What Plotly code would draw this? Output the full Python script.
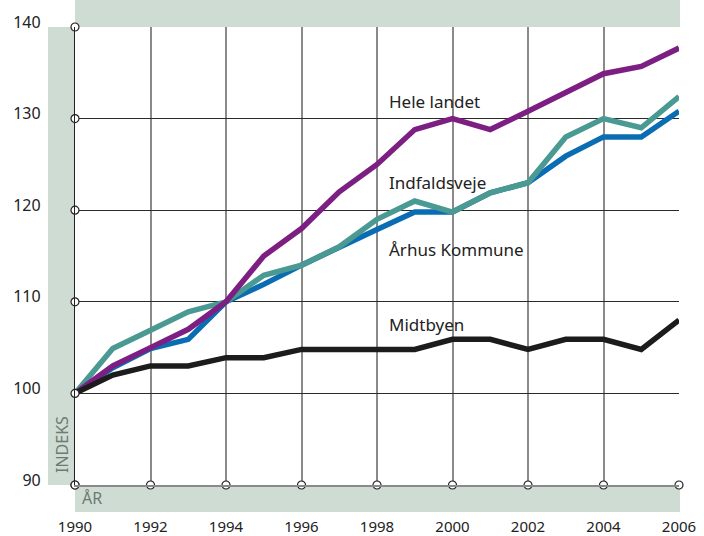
import plotly.graph_objects as go

# Data
years = list(range(1990, 2007))
hele_landet = [100, 103, 105, 107, 110, 115, 118, 122, 125, 128.8, 130, 128.8, 130.8, 132.9, 134.9, 135.7, 137.7]
indfaldsveje = [100, 104.9, 106.9, 108.9, 110, 112.9, 114, 116, 119, 121, 119.8, 121.9, 123, 128, 130, 129, 132.4]
aarhus_kommune = [100, 102.8, 104.9, 105.9, 110, 111.9, 114, 116, 117.9, 119.8, 119.8, 121.9, 123, 125.9, 128, 128, 130.8]
midtbyen = [100, 102, 103, 103, 103.9, 103.9, 104.8, 104.8, 104.8, 104.8, 105.9, 105.9, 104.8, 105.9, 105.9, 104.8, 108]

series = [
    ("Århus Kommune", aarhus_kommune, "#0a6db3"),
    ("Indfaldsveje", indfaldsveje, "#4a9a93"),
    ("Hele landet", hele_landet, "#7d1f82"),
    ("Midtbyen", midtbyen, "#1c1c1c"),
]

# label positions (year, value)
labels = {
    "Hele landet": (1998.27, 131.9),
    "Indfaldsveje": (1998.27, 123.0),
    "Århus Kommune": (1998.27, 115.7),
    "Midtbyen": (1998.27, 107.5),
}

x_ticks = list(range(1990, 2007, 2))
y_ticks = list(range(90, 141, 10))

band = "#cfdcd3"
font = "Noto Sans"

fig = go.Figure()

for name, vals, col in series:
    fig.add_trace(go.Scatter(x=years, y=vals, mode="lines", name=name,
                             line=dict(color=col, width=5.5), cliponaxis=False))

# circles on the left and bottom axes
fig.add_trace(go.Scatter(
    x=[1990] * len(y_ticks) + x_ticks,
    y=y_ticks + [90] * len(x_ticks),
    mode="markers", cliponaxis=False, hoverinfo="skip",
    marker=dict(size=8, color="white", line=dict(color="#222", width=1.2)),
))

for name, (lx, ly) in labels.items():
    fig.add_annotation(x=lx, y=ly, text=name, showarrow=False, xanchor="left",
                       yanchor="middle", font=dict(family=font, size=17, color="#222"))

# coloured bands around the plot area
W, H = 604, 458
fig.add_shape(type="rect", xref="paper", yref="paper", x0=0, x1=605 / W, y0=1, y1=1 + 27 / H,
              fillcolor=band, line_width=0, layer="below")
fig.add_shape(type="rect", xref="paper", yref="paper", x0=-27 / W, x1=0, y0=0, y1=1,
              fillcolor=band, line_width=0, layer="below")
fig.add_shape(type="rect", xref="paper", yref="paper", x0=0, x1=605 / W, y0=-27 / H, y1=0,
              fillcolor=band, line_width=0, layer="below")

fig.add_annotation(xref="paper", yref="paper", x=-13 / W, y=(485 - 445) / H, text="INDEKS",
                   textangle=-90, showarrow=False, xanchor="center", yanchor="middle",
                   font=dict(family=font, size=16, color="#6c7a73"))
fig.add_annotation(xref="paper", yref="paper", x=5 / W, y=-13 / H, text="ÅR",
                   xanchor="left", yanchor="middle", showarrow=False,
                   font=dict(family=font, size=16, color="#6c7a73"))

fig.update_xaxes(range=[1990, 2006], tickvals=x_ticks, showgrid=True, gridcolor="#8a8a8a",
                 gridwidth=1.5, showline=True, linecolor="#8a8a8a", linewidth=1.5,
                 ticks="outside", ticklen=0, ticklabelstandoff=27, zeroline=False,
                 tickfont=dict(family=font, size=15, color="#222"))
fig.update_yaxes(range=[90, 140], tickvals=y_ticks, showgrid=True, gridcolor="#2a2a2a",
                 gridwidth=1, showline=True, linecolor="#222", linewidth=1.2, mirror=False,
                 ticks="outside", ticklen=0, ticklabelstandoff=30, ticklabelshift=-5,
                 zeroline=False, tickfont=dict(family=font, size=16, color="#222"))

fig.update_layout(width=704, height=536,
                  margin=dict(l=75, r=25, t=27, b=51, autoexpand=False),
                  plot_bgcolor="white", paper_bgcolor="white", showlegend=False)

fig.write_html("out.html", config={"displayModeBar": False},
               post_script="document.body.style.margin='0';")
